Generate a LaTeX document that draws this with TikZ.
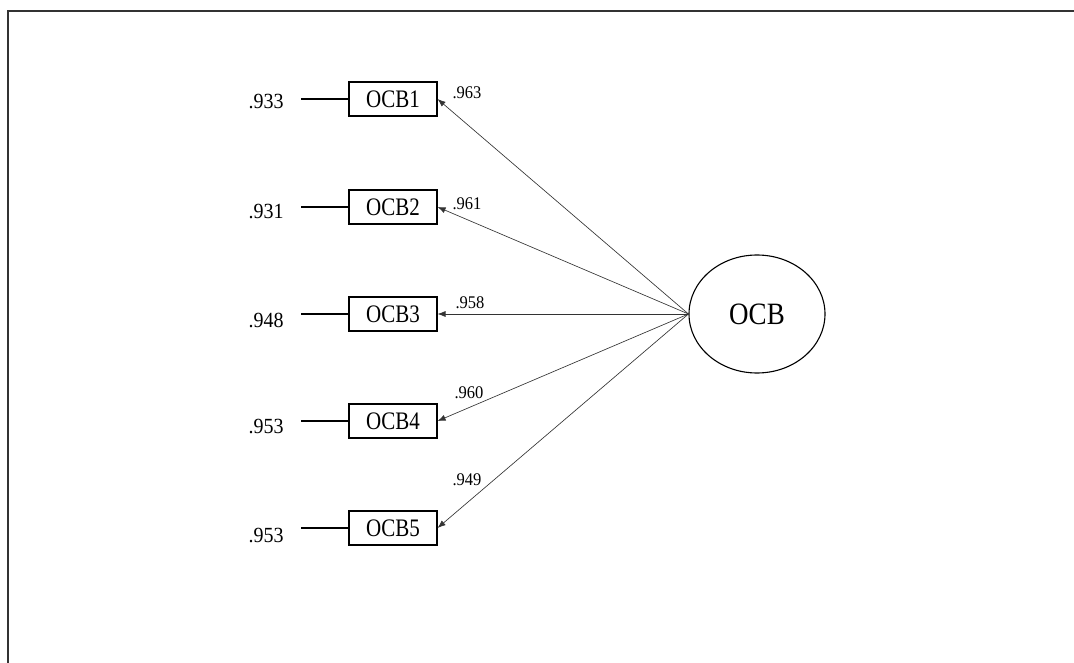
\documentclass[tikz,border=0pt]{standalone}
\usepackage{fontspec}
\setmainfont{Liberation Serif}
\usetikzlibrary{arrows.meta,shapes.geometric}
\begin{document}
\begin{tikzpicture}[x=1pt,y=-1pt,
  ind/.style={draw,line width=1.1pt,minimum width=88pt,minimum height=34pt,inner sep=0pt,font=\fontsize{21}{21}\selectfont},
  errlbl/.style={inner sep=0pt,font=\fontsize{20}{20}\selectfont},
  ldlbl/.style={inner sep=0pt,font=\fontsize{16.5}{16.5}\selectfont},
  errline/.style={line width=1.3pt},
  loadarrow/.style={draw=black!80,line width=0.65pt,-{Latex[length=8pt,width=6pt]}},
  framestyle/.style={draw=black!80,line width=2pt}]
\useasboundingbox (0,0) rectangle (1074,663);
\draw[framestyle] (8,663) -- (8,11) -- (1074,11);
\node[ellipse,draw,line width=1.1pt,minimum width=136pt,minimum height=118pt,inner sep=0pt,font=\fontsize{27}{27}\selectfont] (ocb) at (757,314) {\scalebox{1}[1.15]{OCB}};
\foreach \i/\y/\e/\ey/\l/\lx/\ly in {1/99/.933/102/.963/467/93, 2/207/.931/212/.961/467/204, 3/314/.948/320/.958/470/303, 4/421/.953/427/.960/469/393, 5/528/.953/535/.949/467/480}{
  \node[ind] (b\i) at (393,\y) {\scalebox{1}[1.2]{OCB\i}};
  \node[errlbl] (e\i) at (266,\ey) {\scalebox{1}[1.08]{\e}};
  \coordinate (c\i) at (301,\y);
  \draw[errline] (c\i) -- (b\i.west);
  \draw[loadarrow] (ocb.west) -- (b\i.east);
  \node[ldlbl] (l\i) at (\lx,\ly) {\scalebox{1}[1.08]{\l}};
}
\end{tikzpicture}
\end{document}
